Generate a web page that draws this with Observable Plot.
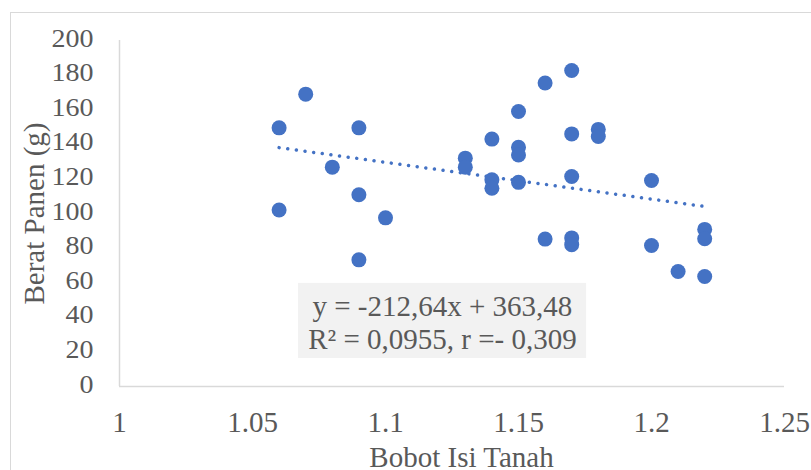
<!DOCTYPE html>
<html><head><meta charset="utf-8">
<script src="https://cdn.jsdelivr.net/npm/d3@7"></script>
<script src="https://cdn.jsdelivr.net/npm/@observablehq/plot@0.6"></script>
<style>html,body{margin:0;padding:0;background:#fff;overflow:hidden} svg{display:block;overflow:hidden}</style>
</head><body><div id="chart"></div>
<script>
// Data
const bobotIsi = [1.06,1.06,1.07,1.08,1.09,1.09,1.09,1.10,1.13,1.13,1.14,1.14,1.14,1.15,1.15,1.15,1.15,1.16,1.16,1.17,1.17,1.17,1.17,1.17,1.18,1.18,1.20,1.20,1.21,1.22,1.22,1.22];
const beratPanen = [149.5,102,169,126.8,149.5,110.8,73.2,97.5,132,126.8,143,119.5,114.6,159,138.3,133.8,118,175.4,85.2,182.7,146,121.4,85.9,82,148.6,144.5,119.1,81.5,66.5,90.8,85.4,63.6];
const xTicks = [1, 1.05, 1.1, 1.15, 1.2, 1.25];
const xTickLabels = ["1", "1.05", "1.1", "1.15", "1.2", "1.25"];
const yTicks = [0, 20, 40, 60, 80, 100, 120, 140, 160, 180, 200];
const yTickLabels = ["0", "20", "40", "60", "80", "100", "120", "140", "160", "180", "200"];
const trendCoef = [-212.64, 363.48]; // slope, intercept
const eqLines = ["y = -212,64x + 363,48", "R\u00b2 = 0,0955, r =- 0,309"];
const xTitle = "Bobot Isi Tanah";
const yTitle = "Berat Panen (g)";

// Derived tables
const points = bobotIsi.map((x, i) => ({x, y: beratPanen[i]}));
const xExt = d3.extent(bobotIsi);
const trend = xExt.map(x => ({x, y: trendCoef[0] * x + trendCoef[1]}));
// label placement (data units, as in the chart's label box)
const eqBox = {x1: 1.0673, x2: 1.1756, y1: 16.2, y2: 59.6};
const eqAnchor = {x: 1.1214, y: 37.6, label: eqLines.join("\n")};

const blue = "#4472C4";
const grey = "#595959";
const chart = Plot.plot({
  width: 811, height: 470,
  marginLeft: 119, marginRight: 27, marginTop: 40, marginBottom: 84,
  style: {fontFamily: "'Liberation Serif','Times New Roman',serif", color: grey, background: "#fff", overflow: "hidden"},
  x: {domain: [1, 1.25]},
  y: {domain: [0, 200]},
  marks: [
    Plot.frame({stroke: "#d9d9d9", strokeWidth: 1, insetLeft: -109, insetTop: -28, insetRight: -28, insetBottom: -85}),
    Plot.ruleY([0], {stroke: "#d9d9d9", strokeWidth: 1.5}),
    Plot.ruleX([1], {stroke: "#d9d9d9", strokeWidth: 1.5}),
    Plot.axisX({ticks: xTicks, tickFormat: d => xTickLabels[xTicks.indexOf(d)], tickSize: 0, tickPadding: 25, fontSize: 29, label: null, fill: grey}),
    Plot.axisY({ticks: yTicks, tickFormat: d => yTickLabels[yTicks.indexOf(d)], tickSize: 0, tickPadding: 26, fontSize: 25, label: null, dy: -2, fill: grey}),
    Plot.line(trend, {x: "x", y: "y", stroke: blue, strokeWidth: 3.5, strokeDasharray: "0.01 8.7", strokeLinecap: "round"}),
    Plot.dot(points, {x: "x", y: "y", r: 7.5, fill: blue}),
    Plot.rect([eqBox], {x1: "x1", x2: "x2", y1: "y1", y2: "y2", fill: "#f2f2f2"}),
    Plot.text([eqAnchor], {x: "x", y: "y", text: "label", fontSize: 29, lineHeight: 1.14, fill: grey}),
    Plot.text([xTitle], {text: d => d, frameAnchor: "bottom", lineAnchor: "middle", textAnchor: "middle", dx: 9.5, dy: 71.7, fontSize: 29, fill: grey}),
    Plot.text([yTitle], {text: d => d, frameAnchor: "left", lineAnchor: "middle", textAnchor: "middle", rotate: -90, dx: -85, fontSize: 29, fill: grey})
  ]
});
document.getElementById("chart").append(chart);
d3.select(chart).selectAll('g[aria-label="y-axis tick label"] text').each(function() {
  const L = this.getComputedTextLength();
  this.setAttribute("textLength", L * 1.12);
  this.setAttribute("lengthAdjust", "spacingAndGlyphs");
});
</script>
</body></html>
